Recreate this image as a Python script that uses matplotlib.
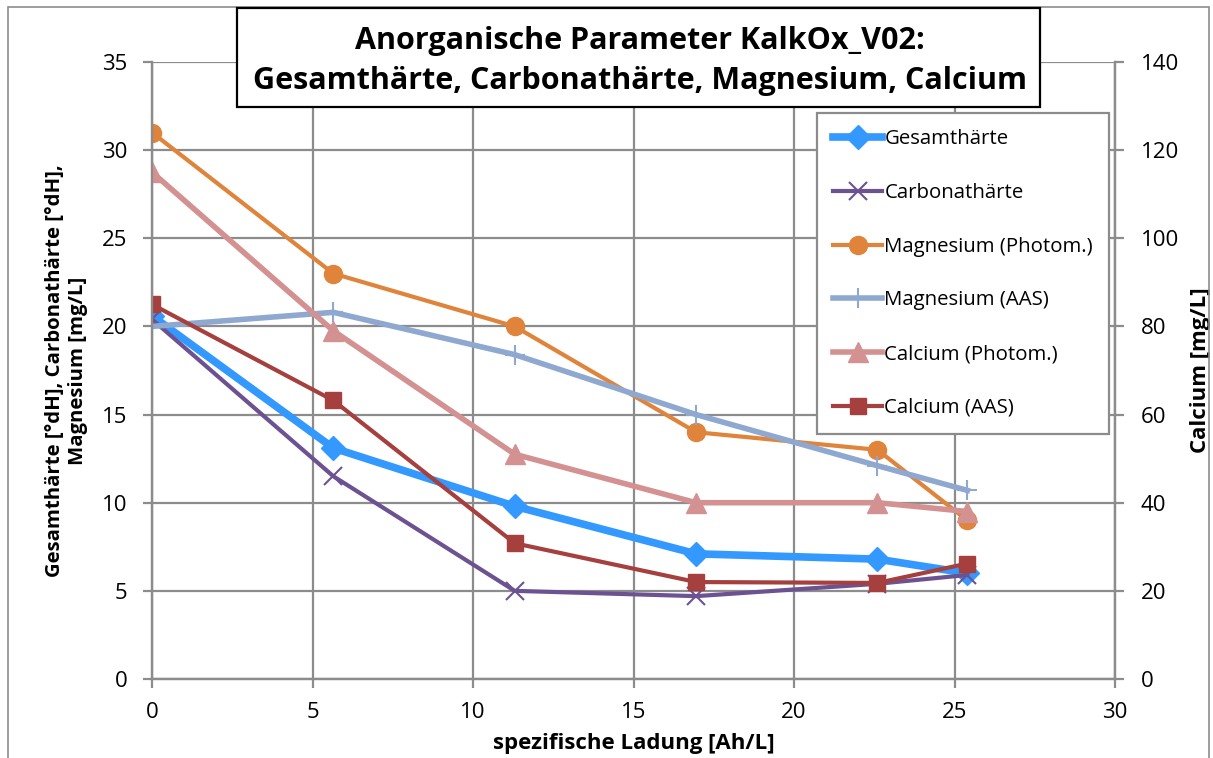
import numpy as np
import matplotlib.pyplot as plt
from matplotlib.patches import Rectangle

plt.rcParams["font.family"] = ["Open Sans", "DejaVu Sans"]

# Daten
ladung = [0, 5.65, 11.3, 16.95, 22.6, 25.4]
gesamthaerte = [20.6, 13.1, 9.8, 7.1, 6.8, 6.0]
carbonathaerte = [20.4, 11.5, 5.0, 4.7, 5.4, 5.9]
mg_photom = [31, 23, 20, 14, 13, 9]
mg_aas = [20.0, 20.8, 18.4, 15.0, 12.1, 10.7]
ca_photom = [115, 79, 51, 40, 40, 38]
ca_aas = [85, 63.2, 30.8, 22, 21.8, 26.2]

W, H = 1213, 758
fig = plt.figure(figsize=(W / 100, H / 100), dpi=100)
ax = fig.add_axes([152 / W, 1 - 679 / H, (1115 - 152) / W, (679 - 62) / H])
ax2 = ax.twinx()

grau = "#8c8c8c"

ax.plot(ladung, gesamthaerte, color="#3399ff", lw=5.5, marker="D", ms=12, label="Gesamthärte")
ax.plot(ladung, carbonathaerte, color="#6c5291", lw=3, marker="x", ms=13, mew=1.5, label="Carbonathärte")
ax.plot(ladung, mg_photom, color="#df843a", lw=3, marker="o", ms=13, label="Magnesium (Photom.)")
ax.plot(ladung, mg_aas, color="#8ea8d0", lw=4, marker="+", ms=15, mew=1.5, label="Magnesium (AAS)")
ax2.plot(ladung, ca_photom, color="#d49192", lw=4, marker="^", ms=14, label="Calcium (Photom.)")
ax2.plot(ladung, ca_aas, color="#a5403f", lw=3, marker="s", ms=12, label="Calcium (AAS)")

ax.set_xlim(0, 30)
ax.set_ylim(0, 35)
ax2.set_ylim(0, 140)
ax.set_xticks(range(0, 31, 5))
ax.set_yticks(range(0, 36, 5))
ax2.set_yticks(range(0, 141, 20))

ax.grid(True, color=grau, lw=1.6)
ax.set_axisbelow(True)
for a in (ax, ax2):
    a.tick_params(direction="out", length=6.5, width=1.6, color=grau, labelsize=16)
    for s in a.spines.values():
        s.set_color(grau)
        s.set_linewidth(1.6)
    a.spines["top"].set_visible(False)
ax.tick_params(axis="x", pad=10)
ax.tick_params(axis="y", pad=11)
ax2.tick_params(axis="y", pad=12)

ax.set_xlabel("spezifische Ladung [Ah/L]", fontsize=16, fontweight="bold", labelpad=7)
ax.set_ylabel("Gesamthärte [°dH], Carbonathärte [°dH],\nMagnesium [mg/L]", fontsize=14.7,
              fontweight="bold", linespacing=1.25, labelpad=10)
ax2.set_ylabel("Calcium [mg/L]", fontsize=16, fontweight="bold", labelpad=8)

h1, l1 = ax.get_legend_handles_labels()
h2, l2 = ax2.get_legend_handles_labels()
leg = ax2.legend(h1 + h2, l1 + l2, loc="upper left", bbox_to_anchor=(817 / W, 1 - 113 / H),
                 bbox_transform=fig.transFigure, fontsize=14.7, numpoints=1, handlelength=2.4,
                 handletextpad=0.1, labelspacing=1.65, borderpad=0.8, borderaxespad=0,
                 fancybox=False, framealpha=1, edgecolor=grau)
leg.get_frame().set_linewidth(1.6)

# Titel mit Rahmen
fig.patches.append(Rectangle((237 / W, 1 - 107 / H), (1040 - 237) / W, (107 - 8) / H,
                             transform=fig.transFigure, facecolor="white", edgecolor="black",
                             lw=1.6, zorder=5))
fig.text(640 / W, 1 - 61 / H, "Anorganische Parameter KalkOx_V02:\nGesamthärte, Carbonathärte, Magnesium, Calcium",
         ha="center", va="center", fontsize=22, fontweight="bold", linespacing=1.4, zorder=6)

# äußerer Rahmen
fig.patches.append(Rectangle((8 / W, -0.01), (W - 12) / W, 1 - 7 / H + 0.01, transform=fig.transFigure,
                             facecolor="none", edgecolor=grau, lw=1.2, zorder=0))

fig.savefig("out.png", dpi=100)
